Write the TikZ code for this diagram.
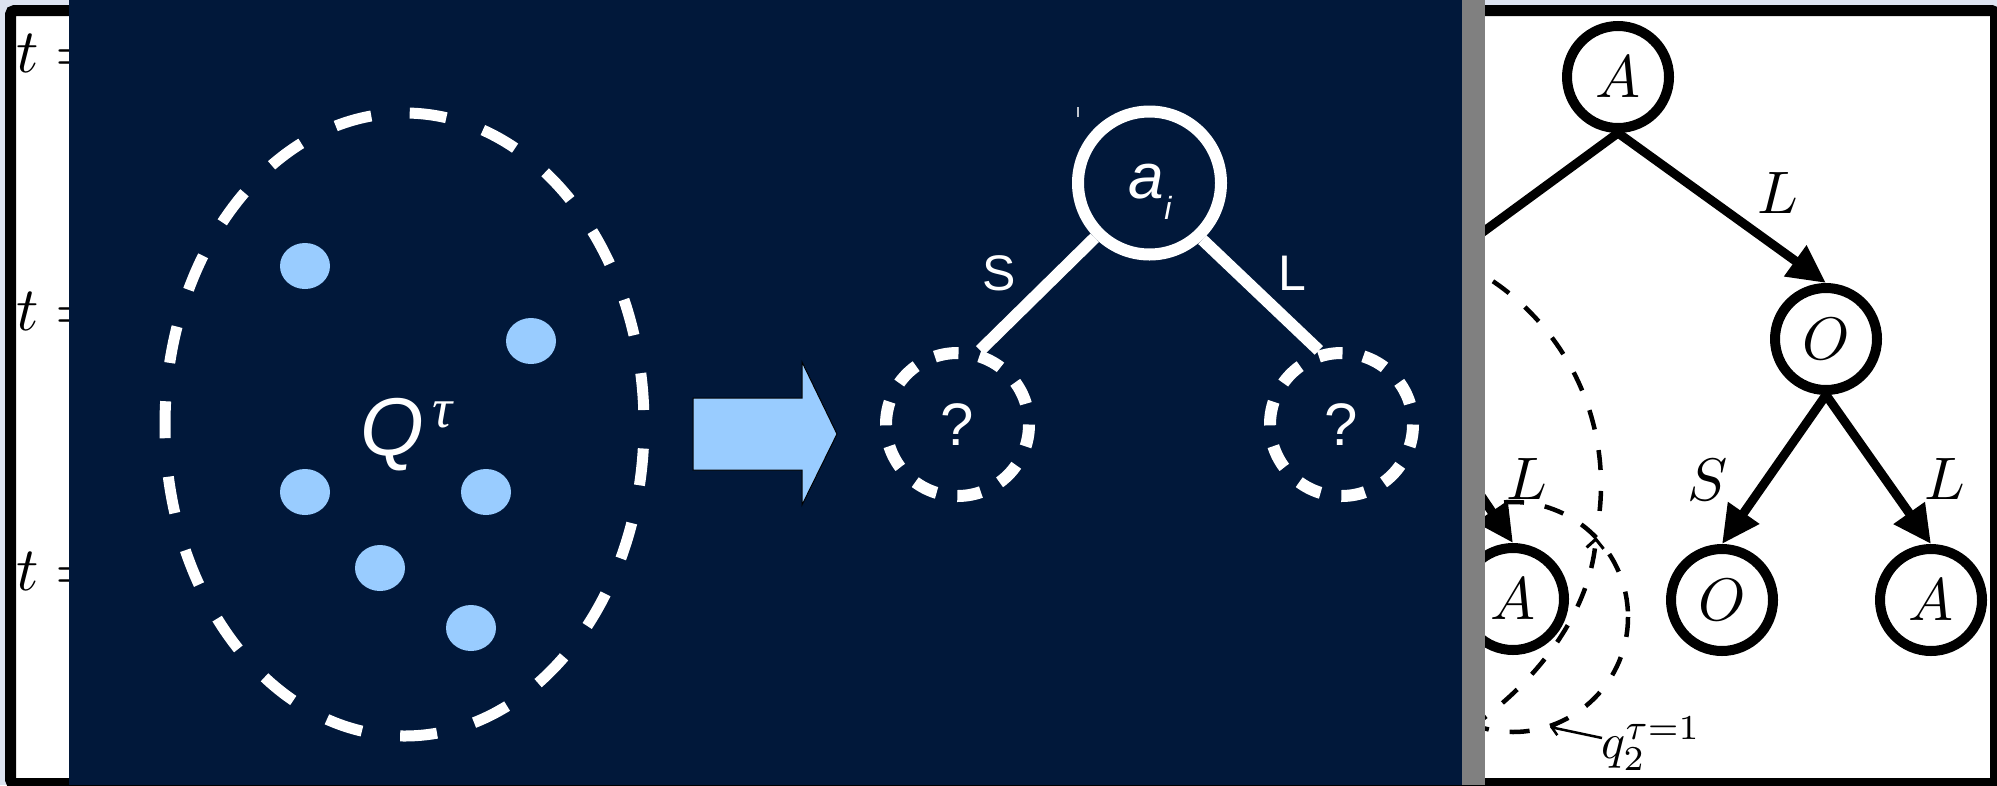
\documentclass[tikz,border=0pt]{standalone}
\usepackage{graphicx}
\usepackage{fontspec}
\newfontfamily\arialfont{Liberation Sans}
\newfontfamily\timesfont{Liberation Serif}
\usetikzlibrary{arrows.meta,shapes.geometric}
\definecolor{navy}{RGB}{1,24,58}
\definecolor{dotblue}{RGB}{153,204,255}
\definecolor{pagebg}{RGB}{221,227,240}
\definecolor{stripgrey}{RGB}{128,128,128}
\newcommand{\treelett}[1]{\scalebox{6}{$#1$}}
\tikzset{
  bnode/.style={circle, draw=black, line width=10pt, minimum size=102pt, inner sep=0pt, fill=white},
  bedge/.style={draw=black, line width=9pt},
  barrow/.style={bedge, -{Triangle[length=38pt,width=36pt]}},
  blabel/.style={inner sep=0pt},
  bdash/.style={draw=black, line width=4.5pt, dash pattern=on 20pt off 21pt},
  barb/.style={-{Straight Barb[length=9pt,width=17pt,line width=3pt]}},
  wnode/.style={circle, draw=white, line width=12pt, minimum size=143pt, inner sep=0pt, text=white},
  wdashnode/.style={wnode, dash pattern=on 24pt off 21.1pt, dash phase=24pt, font=\arialfont\fontsize{60}{60}\selectfont},
  wedge/.style={draw=white, line width=12pt},
  wlabel/.style={inner sep=0pt, text=white, font=\arialfont\fontsize{50}{50}\selectfont},
  dotnode/.style={ellipse, fill=dotblue, minimum width=50pt, minimum height=46pt, inner sep=0pt},
  tlab/.style={inner sep=0pt, anchor=base west},
}
\begin{document}
\begin{tikzpicture}[x=1pt,y=-1pt]
\useasboundingbox (0,0) rectangle (1997,785);
\fill[pagebg] (0,0) rectangle (1997,785);
% ---------- background figure (white panel) ----------
\filldraw[fill=white, draw=black, line width=11pt, rounded corners=4pt] (10.5,10.5) rectangle (1995.5,783.5);
\node[tlab] (t0) at (16,72) {\scalebox{6.2}{$t =$}};
\node[tlab] (t1) at (16,330) {\scalebox{6.2}{$t =$}};
\node[tlab] (t2) at (16,590) {\scalebox{6.2}{$t =$}};
% dashed groupings
\draw[bdash] (1355,485) ++(-75:246) arc[start angle=-75, end angle=7.5, radius=246];
\draw[bdash] (1513,617) circle[radius=115];
\draw[bdash, barb] (1470,728) .. controls (1540,680) and (1590,610) .. (1596,537);
% tree
\coordinate (hidN) at (1412,284);
\coordinate (hidS) at (1412,394);
\node[bnode] (nA) at (1618,77) {\treelett{A}};
\node[bnode] (nO) at (1826,339) {\treelett{O}};
\node[bnode] (nA1) at (1513,599) {\treelett{A}};
\node[bnode] (nO2) at (1722,600) {\treelett{O}};
\node[bnode] (nA3) at (1931,600) {\treelett{A}};
\draw[barrow] (nA.south) -- (hidN);
\draw[barrow] (nA.south) -- (nO.north);
\draw[barrow] (hidS) -- (nA1.north);
\draw[barrow] (nO.south) -- (nO2.north);
\draw[barrow] (nO.south) -- (nA3.north);
\node[blabel] (lL1) at (1778,193) {\treelett{L}};
\node[blabel] (lL2) at (1527,479) {\treelett{L}};
\node[blabel] (lS3) at (1708,480) {\treelett{S}};
\node[blabel] (lL4) at (1945,479) {\treelett{L}};
% q label
\node[inner sep=0pt, anchor=base west] (qlab) at (1601,758) {\scalebox{5}{$q_2^{\tau=1}$}};
\coordinate (qptr) at (1602,738);
\coordinate (qtip) at (1550,727);
\draw[line width=2.5pt, -{Straight Barb[length=7pt,width=13pt,line width=2.5pt]}] (qptr) -- (qtip);
% ---------- dark overlay panel ----------
\fill[navy] (69,0) rectangle (1462,785);
\fill[stripgrey] (1462,0) rectangle (1485,785);
% big dashed ellipse
\draw[white, line width=11pt, dash pattern=on 37pt off 38.6pt, dash phase=51.6pt] (404.5,424.5) ellipse [x radius=239.5, y radius=311.5];
% dots
\node[dotnode] (d1) at (305,266) {};
\node[dotnode] (d2) at (531,341) {};
\node[dotnode] (d3) at (305,492) {};
\node[dotnode] (d4) at (486,492) {};
\node[dotnode] (d5) at (380,568) {};
\node[dotnode] (d6) at (471,628) {};
% Q^tau
\node[inner sep=0pt, anchor=base west, text=white, font=\arialfont\itshape\fontsize{82}{82}\selectfont] (Q) at (360,455) {Q};
\node[inner sep=0pt, anchor=base west, text=white, font=\timesfont\itshape\fontsize{56}{56}\selectfont] (tau) at (432,427) {τ};
% block arrow
\filldraw[fill=dotblue, draw=black, line width=1pt] (693,398) -- (802,398) -- (802,362) -- (837,434) -- (802,505) -- (802,470) -- (693,470) -- cycle;
% tree
\node[wnode] (ai) at (1149.5,183) {};
\node[inner sep=0pt, anchor=base, text=white, font=\arialfont\itshape\fontsize{64}{64}\selectfont] (ailab) at (1150,198) {a\raisebox{-0.33em}{\fontsize{32}{32}\selectfont i}};
\node[wdashnode] (lc) at (957.5,424.5) {?};
\node[wdashnode] (rc) at (1341.5,424.5) {?};
\draw[wedge] (ai.225) -- (lc.73);
\draw[wedge] (ai.-47) -- (rc.107);
\node[wlabel] (lS) at (999,273) {S};
\node[wlabel] (lL) at (1292,273) {L};
\coordinate (tk1) at (1078,107);
\coordinate (tk2) at (1078,117);
\draw[white!75!navy, line width=1.2pt] (tk1) -- (tk2);
\end{tikzpicture}
\end{document}
